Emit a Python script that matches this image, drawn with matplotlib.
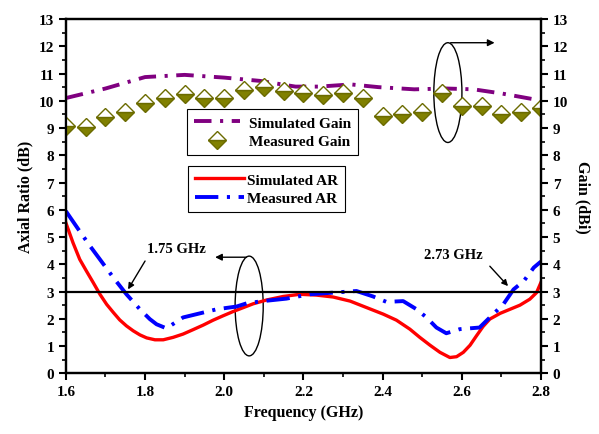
import numpy as np
import matplotlib
matplotlib.use("Agg")
import matplotlib.pyplot as plt
from matplotlib.patches import Ellipse
from matplotlib.ticker import MultipleLocator

plt.rcParams['font.family'] = ['Liberation Serif', 'DejaVu Serif']
plt.rcParams['font.weight'] = 'bold'

# simulated gain (dBi)
sim_gain_f = [1.60, 1.70, 1.80, 1.90, 2.00, 2.09, 2.18, 2.24, 2.32, 2.39, 2.48, 2.56, 2.63, 2.70, 2.78, 2.80]
sim_gain = [10.10, 10.45, 10.87, 10.95, 10.85, 10.73, 10.52, 10.52, 10.60, 10.50, 10.42, 10.45, 10.42, 10.27, 10.06, 10.00]

# measured gain (dBi)
meas_gain_f = [1.60, 1.65, 1.70, 1.75, 1.80, 1.85, 1.90, 1.95, 2.00, 2.05, 2.10, 2.15, 2.20,
               2.25, 2.30, 2.35, 2.40, 2.45, 2.50, 2.55, 2.60, 2.65, 2.70, 2.75, 2.80]
meas_gain = [9.08, 9.04, 9.40, 9.60, 9.90, 10.10, 10.25, 10.10, 10.10, 10.40, 10.50, 10.35, 10.30,
             10.20, 10.30, 10.10, 9.45, 9.50, 9.60, 10.30, 9.80, 9.80, 9.50, 9.60, 9.75]

# simulated axial ratio (dB)
sim_ar_f = [1.600, 1.618, 1.635, 1.652, 1.669, 1.686, 1.703, 1.720, 1.736, 1.753, 1.770, 1.787,
            1.804, 1.825, 1.846, 1.871, 1.896, 1.921, 1.947, 1.972, 1.997, 2.023, 2.048, 2.073,
            2.107, 2.149, 2.191, 2.233, 2.275, 2.318, 2.360, 2.402, 2.435, 2.469, 2.494, 2.520,
            2.545, 2.570, 2.587, 2.604, 2.621, 2.637, 2.654, 2.671, 2.697, 2.722, 2.747, 2.772,
            2.789, 2.800]
sim_ar = [5.52, 4.79, 4.18, 3.75, 3.33, 2.90, 2.53, 2.23, 1.96, 1.74, 1.56, 1.41,
          1.30, 1.23, 1.23, 1.32, 1.44, 1.60, 1.77, 1.95, 2.11, 2.27, 2.41, 2.55,
          2.69, 2.82, 2.90, 2.87, 2.80, 2.65, 2.41, 2.17, 1.95, 1.62, 1.32, 1.03,
          0.77, 0.58, 0.61, 0.77, 1.03, 1.37, 1.72, 1.99, 2.20, 2.35, 2.50, 2.72,
          2.96, 3.33]

# measured axial ratio (dB)
meas_ar_f = [1.600, 1.635, 1.661, 1.686, 1.720, 1.753, 1.787, 1.812, 1.829, 1.854, 1.896, 1.930,
             1.981, 2.031, 2.057, 2.098, 2.157, 2.216, 2.275, 2.334, 2.376, 2.410, 2.452, 2.486,
             2.511, 2.536, 2.561, 2.595, 2.645, 2.671, 2.705, 2.731, 2.757, 2.782, 2.800]
meas_ar = [5.95, 5.21, 4.67, 4.18, 3.51, 2.90, 2.35, 1.99, 1.80, 1.65, 2.05, 2.17,
           2.35, 2.45, 2.57, 2.65, 2.74, 2.90, 2.96, 3.02, 2.82, 2.62, 2.65, 2.35,
           2.05, 1.68, 1.47, 1.62, 1.68, 2.05, 2.53, 3.08, 3.39, 3.88, 4.10]

fig = plt.figure(figsize=(5.99, 4.35), dpi=100)
ax = fig.add_axes([0.110, 0.1395, 0.793, 0.8145])
ax2 = ax.twinx()

# AR curves
l_sim_ar, = ax.plot(sim_ar_f, sim_ar, color='#ff0000', lw=2.4, label='Simulated AR')
l_meas_ar, = ax.plot(meas_ar_f, meas_ar, color='#0000ff', lw=2.8, label='Measured AR')
l_meas_ar.set_dashes([6, 2.2, 0.8, 2.2])
ax.axhline(3, color='black', lw=1.6)

# Gain curves
l_sim_g, = ax2.plot(sim_gain_f, sim_gain, color='#800080', lw=2.8, label='Simulated Gain')
l_sim_g.set_dashes([4.5, 2.2, 0.8, 2.2])
l_meas_g, = ax2.plot(meas_gain_f, meas_gain, ls='none', marker='D', ms=8.8,
                     color='#808000', mec='#6b6b00', fillstyle='bottom',
                     markerfacecoloralt='white', mew=1.0, label='Measured Gain')

for a in (ax, ax2):
    a.set_xlim(1.6, 2.8)
    a.set_ylim(0, 13)
    a.yaxis.set_major_locator(MultipleLocator(1))
    a.yaxis.set_minor_locator(MultipleLocator(0.5))
    a.tick_params(axis='y', which='major', direction='out', length=5, width=1.5, labelsize=11)
    a.tick_params(axis='y', which='minor', direction='out', length=3, width=1.2)
    for s in a.spines.values():
        s.set_linewidth(1.6)

ax.xaxis.set_major_locator(MultipleLocator(0.2))
ax.xaxis.set_minor_locator(MultipleLocator(0.1))
ax.tick_params(axis='x', which='major', direction='out', length=5, width=1.5, labelsize=11)
ax.tick_params(axis='x', which='minor', direction='out', length=3, width=1.2)
ax.set_xticklabels([f"{v:.1f}" for v in ax.get_xticks()])

ax.set_xlabel('Frequency (GHz)', fontsize=11.5, fontweight='bold')
ax.set_ylabel('Axial Ratio (dB)', fontsize=11.5, fontweight='bold')
ax2.set_ylabel('Gain (dBi)', fontsize=11.5, fontweight='bold', rotation=270, labelpad=16)

# ellipses and arrows
ax.add_patch(Ellipse((2.063, 2.47), 0.071, 3.66, fill=False, ec='black', lw=1.0))
ax.annotate('', xy=(1.97, 4.26), xytext=(2.063, 4.26),
            arrowprops=dict(arrowstyle='-|>', color='black', lw=1.0, mutation_scale=10))
ax2.add_patch(Ellipse((2.565, 10.3), 0.071, 3.66, fill=False, ec='black', lw=1.0))
ax2.annotate('', xy=(2.69, 12.13), xytext=(2.565, 12.13),
             arrowprops=dict(arrowstyle='-|>', color='black', lw=1.0, mutation_scale=10))

# frequency annotations
ax.text(1.88, 4.58, '1.75 GHz', ha='center', va='center', fontsize=10.5, fontweight='bold')
ax.annotate('', xy=(1.757, 3.08), xytext=(1.80, 4.12),
            arrowprops=dict(arrowstyle='-|>', color='black', lw=1.0, mutation_scale=9,
                            shrinkA=0, shrinkB=0))
ax.text(2.58, 4.36, '2.73 GHz', ha='center', va='center', fontsize=10.5, fontweight='bold')
ax.annotate('', xy=(2.717, 3.2), xytext=(2.671, 3.93),
            arrowprops=dict(arrowstyle='-|>', color='black', lw=1.0, mutation_scale=9,
                            shrinkA=0, shrinkB=0))

# legends
leg1 = ax2.legend(handles=[l_sim_g, l_meas_g], loc='upper left', bbox_to_anchor=(0.255, 0.746),
                  frameon=True, fancybox=False, edgecolor='black', framealpha=1,
                  prop={'size': 11, 'weight': 'bold'}, handlelength=3.0, handletextpad=0.6,
                  borderpad=0.45, labelspacing=0.3, borderaxespad=0)
leg1.get_frame().set_linewidth(0.8)
leg2 = ax2.legend(handles=[l_sim_ar, l_meas_ar], loc='upper left', bbox_to_anchor=(0.257, 0.585),
                  frameon=True, fancybox=False, edgecolor='black', framealpha=1,
                  prop={'size': 11, 'weight': 'bold'}, handlelength=3.2, handletextpad=0.2,
                  borderpad=0.45, labelspacing=0.3, borderaxespad=0)
leg2.get_frame().set_linewidth(0.8)
ax2.add_artist(leg1)

fig.savefig('out.png', dpi=100)
